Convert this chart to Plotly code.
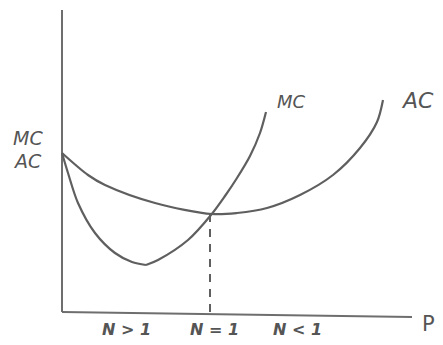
# Hand-drawn style cost curves: MC and AC against output, elasticity regions on the x axis
import plotly.graph_objects as go

# curve points (x = output, y = cost), origin at the axes corner
ac_x = [0, 26, 43, 93, 150, 175, 205, 238, 271, 298, 315, 321]
ac_y = [159, 137, 127, 109, 98, 99, 104, 117, 137, 164, 190, 212]

mc_fall_x = [0, 6, 16, 33, 53, 70, 84]
mc_fall_y = [159, 139, 109, 79, 59, 50, 47]
mc_rise_x = [84, 96, 126, 149, 163, 175, 188, 198, 204]
mc_rise_y = [47, 52, 72, 97, 116, 134, 156, 179, 200]

# axes as drawn (the x axis droops a little to the right)
yaxis_x = [0, 0]
yaxis_y = [0, 302]
xaxis_x = [0, 350]
xaxis_y = [0, -5]

# dashed guide at the AC minimum
guide_x = [148, 148]
guide_y = [0, 98]

region_labels = ["N > 1", "N = 1", "N < 1"]
region_x = [64, 152, 235]

curve_col = "rgb(95,95,95)"
axis_col = "rgb(110,110,110)"
text_col = "rgb(85,85,85)"

fig = go.Figure()
fig.add_trace(go.Scatter(x=yaxis_x, y=yaxis_y, mode="lines",
                         line=dict(color=axis_col, width=2)))
fig.add_trace(go.Scatter(x=xaxis_x, y=xaxis_y, mode="lines",
                         line=dict(color=axis_col, width=2)))
fig.add_trace(go.Scatter(x=ac_x, y=ac_y, mode="lines", name="AC",
                         line=dict(color=curve_col, width=2.2, shape="spline", smoothing=0.9)))
fig.add_trace(go.Scatter(x=mc_fall_x, y=mc_fall_y, mode="lines", name="MC",
                         line=dict(color=curve_col, width=2.2, shape="spline", smoothing=0.9)))
fig.add_trace(go.Scatter(x=mc_rise_x, y=mc_rise_y, mode="lines", name="MC",
                         line=dict(color=curve_col, width=2.2, shape="spline", smoothing=0.9)))
fig.add_trace(go.Scatter(x=guide_x, y=guide_y, mode="lines",
                         line=dict(color=curve_col, width=2, dash="8px,7px")))

hand = dict(family="DejaVu Sans", color=text_col, style="italic")

# axis labels
fig.add_annotation(x=-34, y=174, text="MC", showarrow=False,
                   font=dict(hand, size=19))
fig.add_annotation(x=-35, y=151, text="AC", showarrow=False,
                   font=dict(hand, size=19))
fig.add_annotation(x=366, y=-12, text="P", showarrow=False,
                   font=dict(family="DejaVu Sans", color=text_col, size=21))

# curve labels
fig.add_annotation(x=229, y=211, text="MC", showarrow=False,
                   font=dict(hand, size=18))
fig.add_annotation(x=355, y=212, text="AC", showarrow=False,
                   font=dict(hand, size=22))

for lab, lx in zip(region_labels, region_x):
    fig.add_annotation(x=lx, y=-17, text="<b>" + lab + "</b>", showarrow=False,
                       font=dict(hand, size=16))

# the page adds an 8px body margin, so the ranges are shifted to compensate
fig.update_layout(
    width=443, height=345,
    margin=dict(l=0, r=0, t=0, b=0),
    paper_bgcolor="white", plot_bgcolor="white",
    showlegend=False,
    xaxis=dict(range=[-54, 389], visible=False, fixedrange=True),
    yaxis=dict(range=[-41, 304], visible=False, fixedrange=True),
)

fig.write_html("out.html")
